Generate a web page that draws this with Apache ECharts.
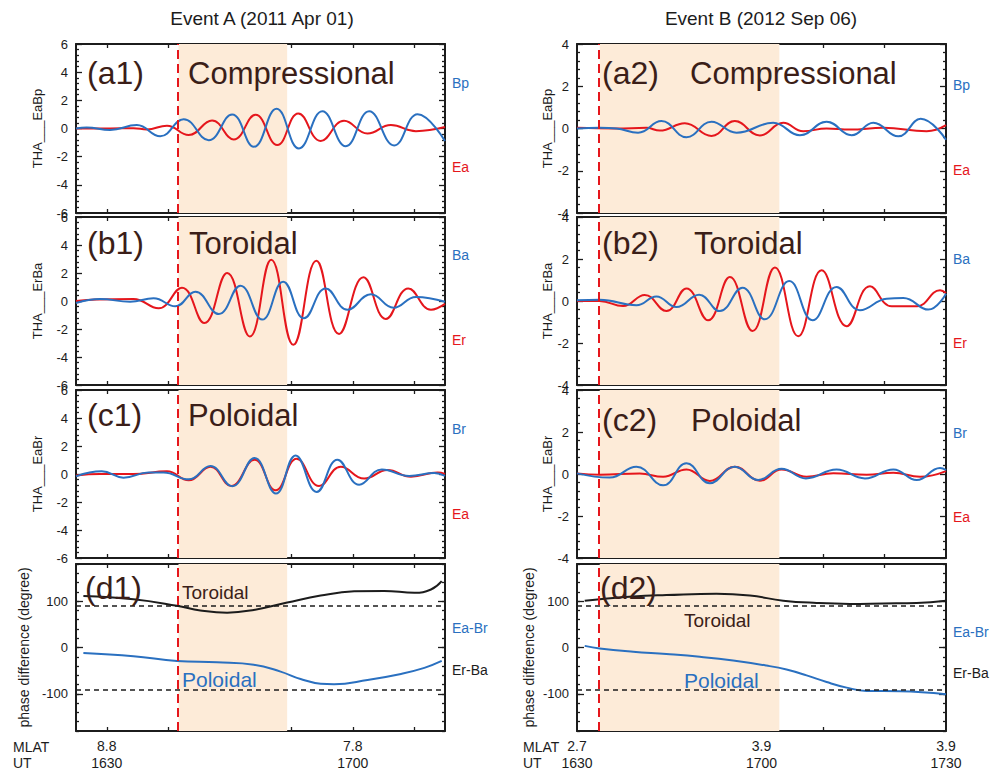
<!DOCTYPE html>
<html><head><meta charset="utf-8">
<script src="https://cdn.jsdelivr.net/npm/echarts@6/dist/echarts.min.js"></script>
<style>html,body{margin:0;padding:0;background:#fff}#c{width:998px;height:771px}</style>
</head><body><div id="c"></div>
<script>
// ---------- Event A (2011 Apr 01): x = minutes after 16:00 UT ----------
const a1Bp = [[26.25,0],[27.55,0.07],[30.41,-0.1],[33.67,0.24],[36.52,-0.55],[39.38,0.66],[42.43,-0.83],[45.29,1.0],[47.94,-1.3],[50.71,1.4],[53.44,-1.42],[56.29,1.23],[59.15,-1.26],[62.0,1.23],[65.06,-1.2],[67.91,1.02],[71.25,-0.88]];
const a1Ea = [[26.25,0],[30.41,0],[33.26,0.02],[34.89,-0.07],[37.34,0.2],[39.99,-0.47],[42.84,0.57],[45.49,-0.78],[48.14,0.97],[50.79,-1.18],[53.36,1.07],[56.09,-0.88],[58.94,0.55],[61.8,-0.36],[64.65,0.24],[67.71,-0.19],[71.25,0.1]];
const b1Ba = [[26.25,-0.14],[29.18,0.14],[32.85,-0.05],[35.71,0.19],[38.36,-0.38],[40.8,0.66],[43.66,-0.93],[46.31,1.09],[48.96,-1.33],[51.52,1.38],[54.05,-1.24],[56.7,0.9],[59.35,-0.62],[62.21,0.48],[64.98,-0.48],[67.71,0.29],[71.25,-0.05]];
const b1Er = [[26.25,0],[28.78,0.1],[33.26,0.14],[36.32,-0.52],[39.17,0.95],[41.9,-1.57],[44.68,2.0],[47.45,-2.54],[50.06,2.95],[52.75,-3.13],[55.56,2.87],[58.33,-2.35],[61.31,1.69],[64.04,-1.28],[66.77,0.9],[69.54,-0.62],[71.25,-0.2]];
const c1Br = [[26.25,-0.17],[29.39,0.19],[32.04,-0.26],[35.1,0.1],[36.93,0.1],[39.99,-0.38],[42.64,0.57],[45.29,-0.88],[48.02,1.14],[50.63,-1.4],[53.03,1.33],[55.6,-1.28],[58.13,1.02],[60.78,-0.76],[63.55,0.33],[66.89,-0.14],[69.95,0.07],[71.25,-0.14]];
const c1Ea = [[26.25,-0.1],[29.18,0],[33.26,0],[37.34,0.19],[39.99,-0.45],[42.64,0.52],[45.17,-0.86],[48.02,1.02],[50.59,-1.16],[53.16,1.09],[55.89,-0.86],[58.54,0.52],[61.39,-0.33],[64.24,0.29],[67.1,-0.19],[70.36,0.1],[71.25,0]];
const d1ErBa = [[27.15,111],[33.26,104],[38.56,90],[41.41,80],[44.68,75],[47.94,81],[52.01,97],[56.09,112],[60.17,121],[63.84,122],[67.51,118],[69.54,125],[70.85,143]];
const d1EaBr = [[27.15,-12],[33.26,-19],[38.56,-29],[43.45,-32],[47.94,-37],[51.2,-52],[53.64,-68],[56.09,-78],[57.72,-79],[61.8,-70],[65.88,-57],[68.73,-44],[70.85,-29]];

// ---------- Event B (2012 Sep 06) ----------
const a2Bp = [[30,0],[33.69,0.03],[36.4,0],[39.93,-0.2],[43.73,0.35],[47.8,-0.41],[51.87,0.32],[55.94,-0.2],[61.9,0.27],[66.25,-0.32],[70.59,0.32],[74.66,-0.32],[78.18,0.27],[82.25,-0.37],[85.89,0.46],[90,-0.53]];
const a2Ea = [[30,0.03],[36.4,0],[41.29,0.03],[43.46,-0.1],[47.53,0.25],[51.87,-0.35],[55.66,0.35],[59.73,-0.33],[63.53,0.27],[66.79,-0.13],[70.59,0],[74.38,-0.05],[79.81,0.03],[86.86,-0.13],[90,0.16]];
const b2Ba = [[30,0.03],[33.69,0.06],[39.66,-0.2],[42.91,0.22],[46.17,-0.29],[49.86,0.3],[53.22,-0.48],[56.91,0.63],[60.55,-0.87],[64.51,0.95],[68.31,-0.92],[72.21,0.67],[76.01,-0.44],[80.35,0.11],[83.07,0.14],[87.13,-0.41],[90,0.35]];
const b2Er = [[30,0],[33.69,0],[37.49,-0.24],[41.01,0.29],[44.54,-0.48],[47.8,0.6],[51.32,-0.92],[54.85,1.14],[58.54,-1.43],[62.18,1.59],[65.97,-1.68],[69.77,1.46],[73.84,-1.2],[77.64,0.7],[81.17,-0.25],[85.24,-0.25],[89.03,0.51],[90,0.38]];
const c2Br = [[30,0.03],[35.32,-0.17],[39.66,0.35],[44,-0.54],[47.8,0.51],[51.6,-0.44],[55.66,0.35],[59.46,-0.29],[63.26,0.25],[67.22,-0.21],[72.21,0.22],[76.83,-0.21],[81.44,0.22],[85.24,-0.29],[89.03,0.29],[90,0.19]];
const c2Ea = [[30,0.03],[33.69,-0.03],[40.2,0.02],[44,-0.13],[47.8,0.22],[51.6,-0.33],[55.66,0.35],[59.73,-0.32],[63.26,0.22],[67.33,-0.13],[71.67,0.03],[77.1,-0.03],[81.44,0.06],[85.78,-0.13],[90,0.14]];
const d2ErBa = [[31.25,100.7],[33.69,104],[39.12,110],[44.54,113],[52.68,116],[58.11,112],[63.53,101],[68.96,96],[74.38,94],[79.81,95],[85.24,96],[90,100.7]];
const d2EaBr = [[31.25,3.5],[33.69,-2],[39.12,-9],[44.54,-14],[49.97,-20],[55.39,-28],[60.82,-39],[64.07,-47.5],[67.33,-60],[70.59,-74.5],[73.84,-86.5],[77.1,-93.6],[82.52,-94.3],[90,-100.7]];

// axes / annotations (values)
const eventA_range = [26.25, 71.25];
const eventB_range = [30, 90];
const eventA_xTicks = [30, 37.5, 45, 52.5, 60, 67.5];
const eventB_xTicks = [40, 50, 60, 70, 80];
const eventA_labelPos = [30, 60];
const eventA_mlat = ['8.8', '7.8'];
const eventA_ut = ['1630', '1700'];
const eventB_labelPos = [30, 60, 90];
const eventB_mlat = ['2.7', '3.9', '3.9'];
const eventB_ut = ['1630', '1700', '1730'];
const eventA_onset = 38.6;
const eventA_shade = [38.75, 52.0];
const eventB_onset = 33.55;
const eventB_shade = [33.7, 62.9];
const phaseRefs = [90, -90];
const phaseLabelTicks = [-100, 0, 100];

const FONT = '"Liberation Sans", Arial, Helvetica, sans-serif';
const BLUE = '#2a70c0', RED = '#e5161c', INK = '#1c1c1c', BROWN = '#3b1e18', SHADE = '#fdebd8';

const cols = [
  { left: 76, range: eventA_range, ticks: eventA_xTicks, labelPos: eventA_labelPos, mlat: eventA_mlat, ut: eventA_ut, onset: eventA_onset, shade: eventA_shade, yMax: 6, nameGap: 32, phaseGap: 45 },
  { left: 577, range: eventB_range, ticks: eventB_xTicks, labelPos: eventB_labelPos, mlat: eventB_mlat, ut: eventB_ut, onset: eventB_onset, shade: eventB_shade, yMax: 4, nameGap: 23, phaseGap: 41 }
];
const rows = [{ top: 44, h: 169 }, { top: 217, h: 168 }, { top: 390, h: 168 }, { top: 564, h: 169 }];

const panels = [
  { c: 0, r: 0, name: 'THA___EaBp', s: [[a1Ea, RED], [a1Bp, BLUE]] },
  { c: 0, r: 1, name: 'THA___ErBa', s: [[b1Er, RED], [b1Ba, BLUE]] },
  { c: 0, r: 2, name: 'THA___EaBr', s: [[c1Ea, RED], [c1Br, BLUE]] },
  { c: 0, r: 3, name: 'phase difference (degree)', phase: true, s: [[d1ErBa, INK], [d1EaBr, BLUE]] },
  { c: 1, r: 0, name: 'THA___EaBp', s: [[a2Ea, RED], [a2Bp, BLUE]] },
  { c: 1, r: 1, name: 'THA___ErBa', s: [[b2Er, RED], [b2Ba, BLUE]] },
  { c: 1, r: 2, name: 'THA___EaBr', s: [[c2Ea, RED], [c2Br, BLUE]] },
  { c: 1, r: 3, name: 'phase difference (degree)', phase: true, s: [[d2ErBa, INK], [d2EaBr, BLUE]] }
];

const grid = [], xAxis = [], yAxis = [], series = [];
const lineAx = { show: true, onZero: false, lineStyle: { color: INK, width: 2 } };
const tickStyle = { color: INK, width: 1.3 };

panels.forEach((p, gi) => {
  const col = cols[p.c], row = rows[p.r];
  grid.push({ left: col.left, top: row.top, width: 369, height: row.h });
  const xb = xAxis.length;
  const isBottom = p.r === 3;
  xAxis.push({
    gridIndex: gi, type: 'value', min: col.range[0], max: col.range[1], position: 'bottom',
    axisLine: lineAx, splitLine: { show: false },
    axisTick: { show: true, inside: true, length: 4, customValues: col.ticks, lineStyle: tickStyle },
    axisLabel: isBottom ? {
      show: true, customValues: col.labelPos, margin: 6, fontSize: 14, lineHeight: 17, color: INK, fontFamily: FONT,
      formatter: v => { const i = col.labelPos.indexOf(v); return col.mlat[i] + '\n' + col.ut[i]; }
    } : { show: false }
  });
  xAxis.push({
    gridIndex: gi, type: 'value', min: col.range[0], max: col.range[1], position: 'top',
    axisLine: lineAx, splitLine: { show: false }, axisLabel: { show: false },
    axisTick: { show: true, inside: true, length: 4, customValues: col.ticks, lineStyle: tickStyle }
  });
  const yl = yAxis.length;
  const nameStyle = { fontSize: p.phase ? 14 : 13, color: INK, fontFamily: FONT };
  if (!p.phase) {
    const common = { gridIndex: gi, type: 'value', min: -col.yMax, max: col.yMax, interval: 2, splitLine: { show: false }, axisLine: lineAx,
      axisTick: { show: true, inside: true, length: 6, lineStyle: tickStyle },
      minorTick: { show: true, splitNumber: 5, length: 3, lineStyle: tickStyle } };
    yAxis.push(Object.assign({}, common, { position: 'left',
      axisLabel: { show: true, fontSize: 13, color: INK, fontFamily: FONT, margin: 8 },
      name: p.name, nameLocation: 'middle', nameGap: col.nameGap, nameTextStyle: nameStyle }));
    yAxis.push(Object.assign({}, common, { position: 'right', axisLabel: { show: false } }));
  } else {
    const common = { gridIndex: gi, type: 'value', min: -180, max: 180, interval: 20, splitLine: { show: false }, axisLine: lineAx,
      axisTick: { show: true, inside: true, length: 3, lineStyle: tickStyle } };
    yAxis.push(Object.assign({}, common, { position: 'left',
      axisLabel: { show: true, customValues: phaseLabelTicks, fontSize: 13, color: INK, fontFamily: FONT, margin: 8 },
      name: p.name, nameLocation: 'middle', nameGap: col.phaseGap, nameTextStyle: nameStyle }));
    yAxis.push(Object.assign({}, common, { position: 'right', axisLabel: { show: false } }));
    const major = { gridIndex: gi, type: 'value', min: -180, max: 180, splitLine: { show: false }, axisLine: { show: false }, axisLabel: { show: false },
      axisTick: { show: true, inside: true, length: 7, customValues: phaseLabelTicks, lineStyle: tickStyle } };
    yAxis.push(Object.assign({}, major, { position: 'left' }));
    yAxis.push(Object.assign({}, major, { position: 'right' }));
  }
  const mlData = [{ xAxis: col.onset, lineStyle: { color: RED, type: [9, 5], width: 2 } }];
  if (p.phase) phaseRefs.forEach(v => mlData.push({ yAxis: v, lineStyle: { color: INK, type: [5, 4], width: 1.5 } }));
  series.push({
    type: 'line', xAxisIndex: xb, yAxisIndex: yl, data: [], silent: true, z: 1,
    markArea: { silent: true, itemStyle: { color: SHADE }, data: [[{ xAxis: col.shade[0] }, { xAxis: col.shade[1] }]] },
    markLine: { silent: true, symbol: 'none', label: { show: false }, animation: false, data: mlData }
  });
  p.s.forEach(([d, color]) => {
    series.push({ type: 'line', xAxisIndex: xb, yAxisIndex: yl, data: d, smooth: 0.45, showSymbol: false, silent: true, z: 3,
      lineStyle: { color, width: 2 }, itemStyle: { color } });
  });
});

const T = (text, x, y, size, fill, align) => ({ type: 'text', x, y, silent: true, z: 10,
  style: { text, font: size + 'px ' + FONT, fill, textAlign: align || 'left', textVerticalAlign: 'middle' } });

const graphic = [
  T('Event A (2011 Apr 01)', 262, 18, 19, INK, 'center'),
  T('Event B (2012 Sep 06)', 761, 18, 19, INK, 'center'),
  T('(a1)', 87, 73, 32, BROWN), T('Compressional', 188, 73, 31, BROWN),
  T('(b1)', 87, 243, 32, BROWN), T('Toroidal', 189, 243, 31, BROWN),
  T('(c1)', 87, 415, 32, BROWN), T('Poloidal', 188, 415, 31, BROWN),
  T('(d1)', 85, 588, 32, BROWN), T('Toroidal', 182, 592, 19, BROWN), T('Poloidal', 182, 679, 21, BLUE),
  T('(a2)', 602, 73, 32, BROWN), T('Compressional', 690, 73, 31, BROWN),
  T('(b2)', 602, 243, 32, BROWN), T('Toroidal', 694, 243, 31, BROWN),
  T('(c2)', 602, 420, 32, BROWN), T('Poloidal', 691, 420, 31, BROWN),
  T('(d2)', 600, 588, 32, BROWN), T('Toroidal', 684, 620, 19, BROWN), T('Poloidal', 684, 680, 21, BLUE),
  T('Bp', 452, 83, 14, BLUE), T('Ea', 452, 167, 14, RED),
  T('Ba', 452, 255, 14, BLUE), T('Er', 452, 340, 14, RED),
  T('Br', 452, 429, 14, BLUE), T('Ea', 452, 514, 14, RED),
  T('Ea-Br', 452, 628, 14, BLUE), T('Er-Ba', 452, 670, 14, INK),
  T('Bp', 953, 85, 14, BLUE), T('Ea', 953, 170, 14, RED),
  T('Ba', 953, 259, 14, BLUE), T('Er', 953, 343, 14, RED),
  T('Br', 953, 433, 14, BLUE), T('Ea', 953, 517, 14, RED),
  T('Ea-Br', 953, 632, 14, BLUE), T('Er-Ba', 953, 673, 14, INK),
  T('MLAT', 13, 747, 14, INK), T('UT', 13, 763, 14, INK),
  T('MLAT', 523, 747, 14, INK), T('UT', 523, 763, 14, INK)
];

const chart = echarts.init(document.getElementById('c'), null, { renderer: 'svg' });
chart.setOption({ animation: false, backgroundColor: '#fff', textStyle: { fontFamily: FONT }, grid, xAxis, yAxis, series, graphic });
</script></body></html>
